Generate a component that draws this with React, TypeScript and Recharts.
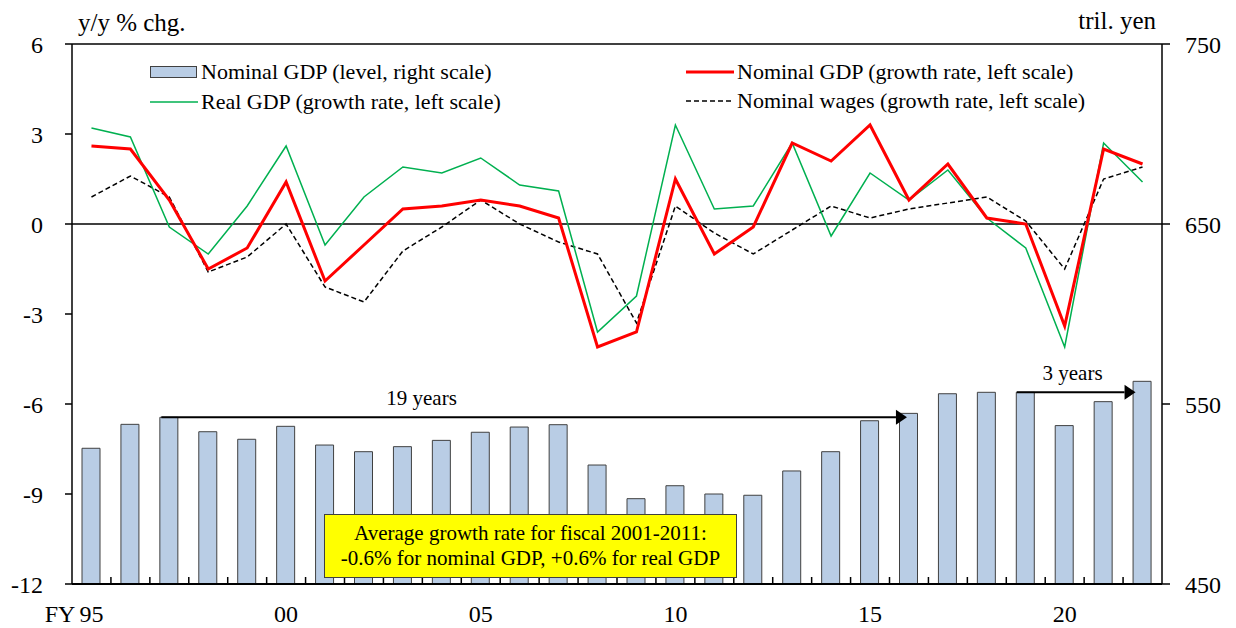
import React from 'react';
import {
  ComposedChart,
  Bar,
  Line,
  XAxis,
  YAxis,
  ReferenceLine,
} from 'recharts';

// Fiscal years FY95 - FY22
const years = [
  '95', '96', '97', '98', '99', '00', '01', '02', '03', '04',
  '05', '06', '07', '08', '09', '10', '11', '12', '13', '14',
  '15', '16', '17', '18', '19', '20', '21', '22',
];

// Nominal GDP level, tril. yen (right scale)
const nominalLevel = [
  525.4, 538.7, 542.6, 534.6, 530.4, 537.6, 527.2, 523.5, 526.3, 529.8,
  534.3, 537.2, 538.5, 516.1, 497.4, 504.6, 500.0, 499.3, 512.8, 523.5,
  540.7, 544.8, 555.7, 556.5, 556.5, 538.0, 551.3, 562.6,
];

// y/y % chg. (left scale)
const nominalGrowth = [
  2.6, 2.5, 0.8, -1.5, -0.8, 1.4, -1.9, -0.7, 0.5, 0.6,
  0.8, 0.6, 0.2, -4.1, -3.6, 1.5, -1.0, -0.1, 2.7, 2.1,
  3.3, 0.8, 2.0, 0.2, 0.0, -3.4, 2.5, 2.0,
];
const realGrowth = [
  3.2, 2.9, -0.1, -1.0, 0.6, 2.6, -0.7, 0.9, 1.9, 1.7,
  2.2, 1.3, 1.1, -3.6, -2.4, 3.3, 0.5, 0.6, 2.7, -0.4,
  1.7, 0.8, 1.8, 0.2, -0.8, -4.1, 2.7, 1.4,
];
const wageGrowth = [
  0.9, 1.6, 0.9, -1.6, -1.1, 0.0, -2.1, -2.6, -0.9, -0.1,
  0.8, 0.0, -0.6, -1.0, -3.3, 0.6, -0.3, -1.0, -0.2, 0.6,
  0.2, 0.5, 0.7, 0.9, 0.1, -1.5, 1.5, 1.9,
];

const leftTicks = [-12, -9, -6, -3, 0, 3, 6];
const rightTicks = [450, 550, 650, 750];

const data = years.map((year, i) => ({
  year,
  level: nominalLevel[i],
  nominal: nominalGrowth[i],
  real: realGrowth[i],
  wages: wageGrowth[i],
}));

const FONT = "'Liberation Serif', 'Times New Roman', serif";
const W = 1236;
const H = 628;
const LEFT_W = 72;
const RIGHT_W = 74;
const BAND = (W - LEFT_W - RIGHT_W) / years.length;

const BAR_FILL = '#b9cde5';
const BAR_STROKE = '#404040';
const WAGE_DASH = '5 3';

// x-axis: inward ticks at the category boundaries, a label every 5 years
const XTick = (props: any) => {
  const { x, y, payload, index } = props;
  const showLabel = index % 5 === 0;
  return (
    <g>
      {index < years.length - 1 && (
        <line x1={x + BAND / 2} y1={y} x2={x + BAND / 2} y2={y - 7} stroke="#000" strokeWidth={1.5} />
      )}
      {showLabel && (
        <text x={x} y={y + 38} textAnchor="middle" fontSize={24} fontFamily={FONT} fill="#000">
          {payload.value}
        </text>
      )}
      {index === 0 && (
        <text x={x - 16} y={y + 38} textAnchor="end" fontSize={24} fontFamily={FONT} fill="#000">
          FY
        </text>
      )}
    </g>
  );
};

// arrow along a reference segment, shifted to the bar edges
const arrowShape = (label: string, frac: number, dx1: number, dx2: number) => (p: any) => {
  const x1 = p.x1 + dx1;
  const x2 = p.x2 + dx2;
  const y = p.y1;
  const head = 11;
  const lx = x1 + (x2 - x1) * frac;
  return (
    <g>
      <line x1={x1} y1={y} x2={x2 - head} y2={y} stroke="#000" strokeWidth={2} />
      <polygon points={`${x2},${y} ${x2 - head},${y - 7.5} ${x2 - head},${y + 7.5}`} fill="#000" />
      <text x={lx} y={y - 12} textAnchor="middle" fontSize={21} fontFamily={FONT} fill="#000">
        {label}
      </text>
    </g>
  );
};

const legendText: React.CSSProperties = {
  fontFamily: FONT,
  fontSize: 22,
  color: '#000',
  whiteSpace: 'nowrap',
};

const LegendRow = ({ left, top, marker, label }: { left: number; top: number; marker: React.ReactNode; label: string }) => (
  <div style={{ position: 'absolute', left, top, height: 30, display: 'flex', alignItems: 'center' }}>
    <svg width={48} height={14} style={{ marginRight: 3 }}>{marker}</svg>
    <span style={legendText}>{label}</span>
  </div>
);

export default function App() {
  return (
    <div style={{ position: 'absolute', left: 0, top: 0, width: W, height: H, background: '#fff' }}>
      <ComposedChart
        width={W}
        height={H}
        data={data}
        margin={{ top: 44, right: 0, bottom: 0, left: 0 }}
        style={{ fontFamily: FONT }}
      >
        <XAxis
          dataKey="year"
          height={44}
          interval={0}
          tickSize={0}
          tickMargin={0}
          tickLine={false}
          axisLine={{ stroke: '#000', strokeWidth: 2 }}
          tick={XTick}
        />
        <YAxis
          yAxisId="left"
          width={LEFT_W}
          domain={[-12, 6]}
          ticks={leftTicks}
          interval={0}
          tickSize={7}
          tickMargin={22}
          axisLine={{ stroke: '#000', strokeWidth: 1.5 }}
          tickLine={{ stroke: '#000', strokeWidth: 1.5 }}
          tick={{ fill: '#000', fontSize: 24, fontFamily: FONT }}
        />
        <YAxis
          yAxisId="right"
          orientation="right"
          width={RIGHT_W}
          domain={[450, 750]}
          ticks={rightTicks}
          interval={0}
          tickSize={8}
          tickMargin={15}
          axisLine={{ stroke: '#000', strokeWidth: 1.5 }}
          tickLine={{ stroke: '#000', strokeWidth: 1.5 }}
          tick={{ fill: '#000', fontSize: 24, fontFamily: FONT }}
        />

        <Bar
          yAxisId="right"
          dataKey="level"
          barSize={18}
          fill={BAR_FILL}
          stroke={BAR_STROKE}
          strokeWidth={1}
          isAnimationActive={false}
        />

        <ReferenceLine yAxisId="left" y={6} stroke="#000" strokeWidth={1.5} />
        <ReferenceLine yAxisId="left" y={0} stroke="#000" strokeWidth={1.5} />

        <Line
          yAxisId="left"
          type="linear"
          dataKey="wages"
          stroke="#000"
          strokeWidth={1.5}
          strokeDasharray={WAGE_DASH}
          dot={false}
          isAnimationActive={false}
        />
        <Line
          yAxisId="left"
          type="linear"
          dataKey="real"
          stroke="#00b050"
          strokeWidth={1.5}
          dot={false}
          isAnimationActive={false}
        />
        <Line
          yAxisId="left"
          type="linear"
          dataKey="nominal"
          stroke="#ff0000"
          strokeWidth={3}
          dot={false}
          isAnimationActive={false}
        />

        {/* 19 years: FY97 level first exceeded again in FY16 */}
        <ReferenceLine
          yAxisId="right"
          segment={[{ x: '97', y: nominalLevel[2] }, { x: '16', y: nominalLevel[2] }]}
          shape={arrowShape('19 years', 0.349, -8, -2)}
        />
        {/* 3 years: FY19 to FY22 */}
        <ReferenceLine
          yAxisId="right"
          segment={[{ x: '19', y: nominalLevel[24] }, { x: '22', y: nominalLevel[24] }]}
          shape={arrowShape('3 years', 0.47, -9, -7)}
        />
      </ComposedChart>

      {/* axis unit titles */}
      <div style={{ position: 'absolute', left: 78, top: 8, fontFamily: FONT, fontSize: 25, lineHeight: '30px' }}>
        y/y % chg.
      </div>
      <div style={{ position: 'absolute', right: W - 1156, top: 6, fontFamily: FONT, fontSize: 25, lineHeight: '30px' }}>
        tril. yen
      </div>

      {/* legend */}
      <LegendRow
        left={150}
        top={57}
        label="Nominal GDP (level, right scale)"
        marker={<rect x={0.5} y={1.5} width={46} height={11} fill={BAR_FILL} stroke={BAR_STROKE} strokeWidth={1} />}
      />
      <LegendRow
        left={150}
        top={87}
        label="Real GDP (growth rate, left scale)"
        marker={<line x1={0} y1={7} x2={48} y2={7} stroke="#00b050" strokeWidth={1.5} />}
      />
      <LegendRow
        left={686}
        top={57}
        label="Nominal GDP (growth rate, left scale)"
        marker={<line x1={0} y1={7} x2={48} y2={7} stroke="#ff0000" strokeWidth={3} />}
      />
      <LegendRow
        left={686}
        top={86}
        label="Nominal wages (growth rate, left scale)"
        marker={<line x1={0} y1={7} x2={48} y2={7} stroke="#000" strokeWidth={1.5} strokeDasharray={WAGE_DASH} />}
      />

      {/* note box */}
      <div
        style={{
          position: 'absolute',
          left: 324,
          top: 514,
          width: 411,
          height: 62,
          background: '#ffff00',
          border: '1px solid #404040',
          display: 'flex',
          flexDirection: 'column',
          justifyContent: 'center',
          alignItems: 'center',
          fontFamily: FONT,
          fontSize: 21,
          lineHeight: '25px',
          color: '#000',
        }}
      >
        <div>Average growth rate for fiscal 2001-2011:</div>
        <div>-0.6% for nominal GDP, +0.6% for real GDP</div>
      </div>
    </div>
  );
}
